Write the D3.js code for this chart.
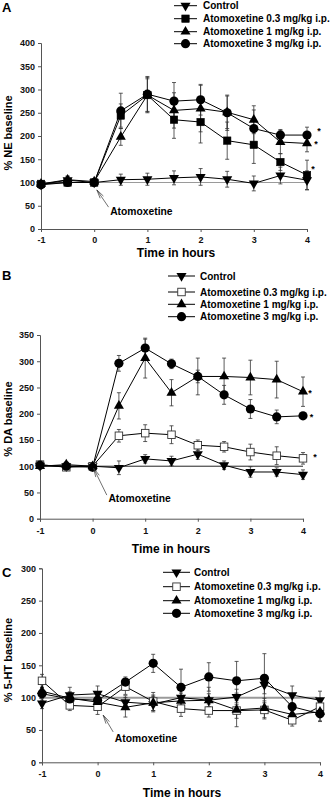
<!DOCTYPE html>
<html><head><meta charset="utf-8">
<script src="https://cdn.jsdelivr.net/npm/d3@7"></script>
<style>
html,body{margin:0;padding:0;background:#fff;}
svg{display:block;font-family:"Liberation Sans",Arial,sans-serif;}
</style></head>
<body>
<svg id="c" width="333" height="804"></svg>
<script>
// ---------- DATA ----------
const times = [-1, -0.5, 0, 0.5, 1, 1.5, 2, 2.5, 3, 3.5, 4];
const xTicks = [-1, 0, 1, 2, 3, 4];
const seriesNames = ["Control", "Atomoxetine 0.3 mg/kg i.p.", "Atomoxetine 1 mg/kg i.p.", "Atomoxetine 3 mg/kg i.p."];

// Panel A: NE
const neControl    = [96, 105, 100, 106, 107, 110, 112, 107, 98, 115, 105];
const neControlErr = [8, 8, 6, 12, 13, 15, 18, 17, 16, 18, 20];
const ne03    = [97, 100, 100, 244, 288, 235, 230, 190, 181, 144, 116];
const ne03Err = [6, 5, 5, 25, 38, 40, 45, 40, 40, 18, 32];
const ne1     = [97, 106, 102, 198, 288, 255, 259, 251, 235, 187, 184];
const ne1Err  = [5, 8, 5, 18, 35, 38, 50, 35, 30, 25, 18];
const ne3     = [95, 100, 100, 254, 290, 275, 278, 250, 216, 202, 202];
const ne3Err  = [5, 6, 5, 38, 38, 40, 33, 38, 40, 12, 17];
const neTicks = [0, 50, 100, 150, 200, 250, 300, 350, 400];

// Panel B: DA
const daControl    = [101, 100, 100, 97, 114, 110, 123, 102, 89, 89, 84];
const daControlErr = [5, 5, 4, 13, 8, 9, 10, 8, 10, 8, 9];
const da03    = [103, 98, 100, 158, 163, 160, 140, 137, 127, 120, 115];
const da03Err = [5, 5, 4, 12, 16, 17, 10, 10, 15, 17, 11];
const da1     = [100, 103, 100, 215, 306, 240, 271, 271, 269, 265, 242];
const da1Err  = [5, 5, 4, 25, 38, 25, 35, 35, 33, 35, 28];
const da3     = [102, 100, 98, 296, 325, 295, 271, 236, 209, 194, 196];
const da3Err  = [5, 5, 4, 15, 17, 9, 12, 18, 18, 13, 6];
const daTicks = [0, 50, 100, 150, 200, 250, 300, 350];

// Panel C: 5-HT
const htControl    = [91, 104, 106, 93, 90, 100, 96, 101, 120, 104, 96];
const htControlErr = [8, 12, 12, 10, 12, 12, 10, 12, 14, 14, 14];
const ht03    = [126, 88, 86, 117, 94, 83, 80, 80, 81, 65, 86];
const ht03Err = [10, 8, 12, 12, 14, 12, 10, 12, 14, 9, 12];
const ht1     = [110, 99, 93, 85, 92, 95, 96, 81, 84, 74, 78];
const ht1Err  = [10, 10, 10, 15, 12, 12, 20, 26, 15, 12, 14];
const ht3     = [106, 98, 96, 124, 153, 116, 132, 126, 130, 86, 75];
const ht3Err  = [10, 10, 10, 8, 14, 28, 22, 30, 38, 17, 12];
const htTicks = [0, 50, 100, 150, 200, 250, 300];

// ---------- DRAWING ----------
const svg = d3.select("#c");
const FONT = "'Liberation Sans',Arial,sans-serif";

const panels = [
  { label: "A", yTitle: "% NE baseline", ticks: neTicks, yMax: 400,
    xr: [41, 307], yr: [229, 43], labelY: 12, yTitleY: 133,
    series: [[neControl, neControlErr], [ne03, ne03Err], [ne1, ne1Err], [ne3, ne3Err]],
    squareOpen: false,
    legend: { x0: 174, x1: 197, tx: 203, ys: [5.7, 18.7, 31.7, 43.7] },
    ref: { from: -1, to: 4, color: "#9a9a9a", w: 1.2 },
    stars: [[3, 12, -6], [2, 9, -1], [1, 6, -8]],
    arrow: { tip: [0.05, 84], tail: [0.27, 47], text: [0.3, 30] },
    xTickY: 243, xTitleY: 257, xTitleX: 176 },
  { label: "B", yTitle: "% DA baseline", ticks: daTicks, yMax: 350,
    xr: [40, 303], yr: [518.7, 335], labelY: 280, yTitleY: 419,
    series: [[daControl, daControlErr], [da03, da03Err], [da1, da1Err], [da3, da3Err]],
    squareOpen: true,
    legend: { x0: 168, x1: 195, tx: 200, ys: [276, 292, 304.3, 316.7] },
    ref: { from: -1, to: 4, color: "#222", w: 1 },
    stars: [[2, 7, -1], [3, 8.5, -1], [1, 12, -3]],
    arrow: { tip: [0.02, 96], tail: [0.27, 45], text: [0.3, 31] },
    xTickY: 534.5, xTitleY: 553, xTitleX: 171 },
  { label: "C", yTitle: "% 5-HT baseline", ticks: htTicks, yMax: 300,
    xr: [42, 320], yr: [762.3, 568.3], labelY: 577, yTitleY: 660,
    series: [[htControl, htControlErr], [ht03, ht03Err], [ht1, ht1Err], [ht3, ht3Err]],
    squareOpen: true,
    legend: { x0: 163, x1: 190, tx: 194, ys: [572.3, 586.7, 600.7, 613.3] },
    ref: { from: -1, to: 3.95, color: "#9a9a9a", w: 2 },
    stars: [],
    arrow: { tip: [0.1, 73], tail: [0.28, 47], text: [0.31, 31] },
    xTickY: 777.5, xTitleY: 797, xTitleX: 182 }
];

function marker(g, type, x, y, open) {
  if (type === 0) { // down triangle
    g.append("path").attr("d", d3.symbol().type(d3.symbolTriangle).size(44)())
      .attr("transform", `translate(${x},${y}) rotate(180)`).attr("fill", "#000");
  } else if (type === 1) { // square
    const s = 7.5;
    g.append("rect").attr("x", x - s / 2).attr("y", y - s / 2).attr("width", s).attr("height", s)
      .attr("fill", open ? "#fff" : "#000").attr("stroke", open ? "#333" : "#000").attr("stroke-width", open ? 0.9 : 0.5);
  } else if (type === 2) { // up triangle
    g.append("path").attr("d", d3.symbol().type(d3.symbolTriangle).size(44)())
      .attr("transform", `translate(${x},${y})`).attr("fill", "#000");
  } else { // circle
    g.append("circle").attr("cx", x).attr("cy", y).attr("r", 4.6).attr("fill", "#000");
  }
}

panels.forEach(p => {
  const g = svg.append("g");
  const x = d3.scaleLinear().domain([-1, 4]).range(p.xr);
  const y = d3.scaleLinear().domain([0, p.yMax]).range(p.yr);

  // panel letter
  g.append("text").attr("x", 2).attr("y", p.labelY).text(p.label)
    .attr("font-size", 13).attr("font-weight", "bold").attr("font-family", FONT);

  // y axis
  const ya = g.append("g").attr("transform", `translate(${p.xr[0]},0)`)
    .call(d3.axisLeft(y).tickValues(p.ticks).tickSize(3).tickPadding(3).tickFormat(d => String(d)));
  ya.select(".domain").attr("stroke", "#555").attr("stroke-width", 1);
  ya.selectAll(".tick line").attr("stroke", "#555");
  ya.selectAll("text").attr("font-size", 9).attr("font-weight", "bold").attr("font-family", FONT).attr("fill", "#111");

  // x axis
  const xa = g.append("g").attr("transform", `translate(0,${p.yr[0]})`)
    .call(d3.axisBottom(x).tickValues(xTicks).tickSize(3).tickPadding(2).tickFormat(d => String(d)));
  xa.select(".domain").attr("stroke", "#555").attr("stroke-width", 1);
  xa.selectAll(".tick line").attr("stroke", "#555");
  xa.selectAll("text").attr("font-size", 9).attr("font-weight", "bold").attr("font-family", FONT).attr("fill", "#111")
    .attr("dy", null).attr("y", p.xTickY - p.yr[0]);

  // axis titles
  g.append("text").attr("x", p.xTitleX).attr("y", p.xTitleY).attr("text-anchor", "middle")
    .text("Time in hours").attr("font-size", 12).attr("font-weight", "bold").attr("font-family", FONT);
  g.append("text").attr("transform", `translate(12,${p.yTitleY}) rotate(-90)`).attr("text-anchor", "middle")
    .text(p.yTitle).attr("font-size", 11).attr("font-weight", "bold").attr("font-family", FONT);

  // reference line at 100
  g.append("line").attr("x1", x(p.ref.from)).attr("x2", x(p.ref.to)).attr("y1", y(100)).attr("y2", y(100))
    .attr("stroke", p.ref.color).attr("stroke-width", p.ref.w);

  const line = d3.line().x((d, i) => x(times[i])).y(d => y(d));

  // error bars
  p.series.forEach(([vals, errs]) => {
    vals.forEach((v, i) => {
      const cx = x(times[i]);
      const y1 = y(v + errs[i]), y2 = y(v - errs[i]);
      g.append("line").attr("x1", cx).attr("x2", cx).attr("y1", y1).attr("y2", y2).attr("stroke", "#333").attr("stroke-width", 0.8);
      [y1, y2].forEach(yy => g.append("line").attr("x1", cx - 2).attr("x2", cx + 2).attr("y1", yy).attr("y2", yy).attr("stroke", "#333").attr("stroke-width", 0.8));
    });
  });

  // lines and markers
  p.series.forEach(([vals]) => {
    g.append("path").attr("d", line(vals)).attr("fill", "none").attr("stroke", "#000").attr("stroke-width", 1);
  });
  p.series.forEach(([vals], si) => {
    vals.forEach((v, i) => marker(g, si, x(times[i]), y(v), p.squareOpen));
  });

  // significance stars
  p.stars.forEach(([si, dx, dy]) => {
    const vals = p.series[si][0];
    g.append("text").attr("x", x(4) + dx).attr("y", y(vals[vals.length - 1]) + dy + 5)
      .attr("text-anchor", "middle").text("*").attr("font-size", 9).attr("font-weight", "bold").attr("font-family", FONT);
  });

  // legend
  seriesNames.forEach((name, si) => {
    const ly = p.legend.ys[si];
    g.append("line").attr("x1", p.legend.x0).attr("x2", p.legend.x1).attr("y1", ly).attr("y2", ly).attr("stroke", "#000").attr("stroke-width", 1);
    marker(g, si, (p.legend.x0 + p.legend.x1) / 2, ly, p.squareOpen);
    g.append("text").attr("x", p.legend.tx).attr("y", ly + 3.6).text(name)
      .attr("font-size", 10).attr("font-weight", "bold").attr("font-family", FONT);
  });

  // Atomoxetine arrow annotation
  const a = p.arrow;
  const tx = x(a.tip[0]), ty = y(a.tip[1]), sx = x(a.tail[0]), sy = y(a.tail[1]);
  const ang = Math.atan2(sy - ty, sx - tx);
  [-0.22, 0, 0.22].forEach(off => {
    const len = off === 0 ? Math.hypot(sx - tx, sy - ty) : 9;
    g.append("line").attr("x1", tx).attr("y1", ty)
      .attr("x2", tx + len * Math.cos(ang + off)).attr("y2", ty + len * Math.sin(ang + off))
      .attr("stroke", "#333").attr("stroke-width", 0.7);
  });
  g.append("text").attr("x", x(a.text[0])).attr("y", y(a.text[1])).text("Atomoxetine")
    .attr("font-size", 10.3).attr("font-weight", "bold").attr("font-family", FONT);
});
</script>
</body></html>
